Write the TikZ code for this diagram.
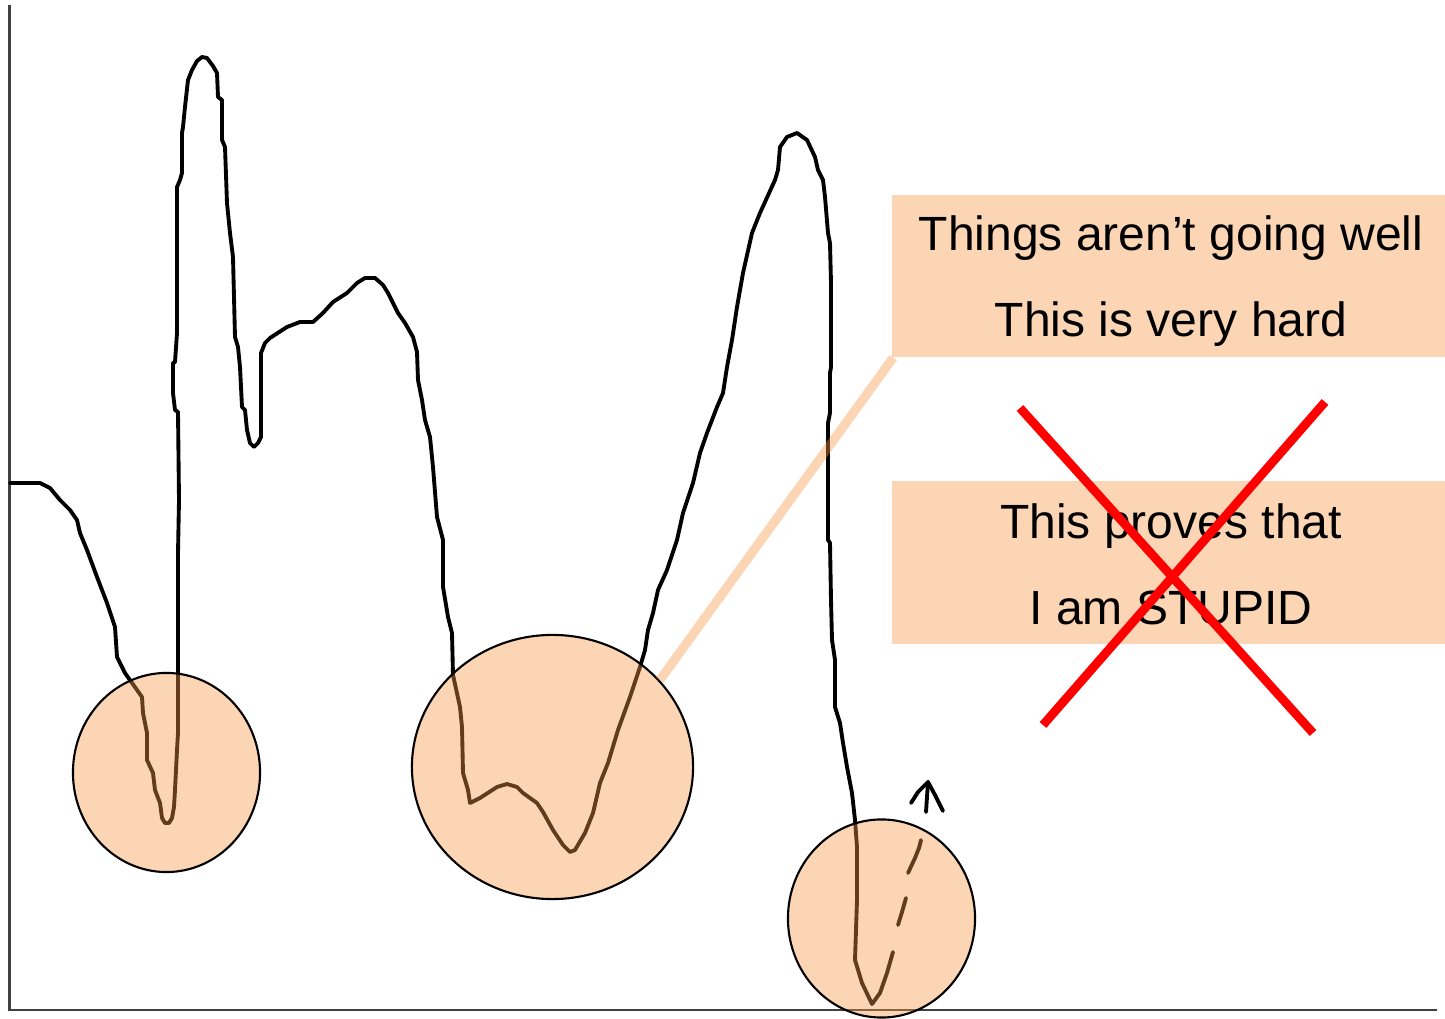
\documentclass[tikz,border=0pt]{standalone}
\usepackage{fontspec}
\setmainfont{Liberation Sans}
\usetikzlibrary{shapes.geometric}
\definecolor{peach}{HTML}{F79646}
\definecolor{axisgray}{HTML}{404040}
\tikzset{
  axisline/.style={draw=axisgray, line width=0.7pt},
  mood/.style={draw=black, line width=1.1pt, line join=round, line cap=round},
  spot/.style={ellipse, draw=black, line width=0.6pt, fill=peach, fill opacity=0.4, draw opacity=1, inner sep=0pt},
  callout/.style={rectangle, fill=peach, fill opacity=0.4, inner sep=0pt, minimum width=5.53cm},
  label/.style={anchor=base, inner sep=0pt, text=black, font=\fontsize{13.66pt}{16pt}\selectfont},
  link/.style={draw=peach, draw opacity=0.4, line width=2.6pt},
  cross/.style={draw=red, line width=2.5pt}
}
\begin{document}
\begin{tikzpicture}[x=0.01cm, y=-0.01cm]
\useasboundingbox (0,0) rectangle (1445,1019);

% axes
\coordinate (origin) at (9.5,1010);
\coordinate (ytop) at (9.5,5);
\coordinate (xend) at (1437,1010);
\draw[axisline] (ytop) -- (origin) -- (xend);

% the mood curve
\draw[mood] plot coordinates {
 (10,483) (40,483) (50,488) (60,500) (70,510) (77,520) (80,533) (87,550)
 (97,577) (107,603) (115,627) (117,657) (125,673) (137,690) (142,697)
 (143,713) (147,733) (147,760) (153,773) (155,790) (160,803) (162,818)
 (165,823) (169,823) (172,818) (174,807) (175,790) (177,750) (178,733)
 (178,673) (178,553) (179,500) (178,412) (175,410) (173,393) (173,363)
 (175,362) (177,333) (177,187) (180,180) (182,173) (182,133) (183,127)
 (185,107) (188,80) (192,70) (197,61) (202,57) (207,58) (213,66) (217,73)
 (218,97) (222,100) (222,140) (225,147) (227,203) (230,233) (233,257)
 (235,337) (238,347) (240,367) (242,407) (245,410) (247,430) (250,443)
 (254,447) (258,443) (261,437) (261,353) (265,343) (270,338) (287,327)
 (300,322) (313,322) (323,313) (333,302) (347,293) (357,283) (365,278)
 (375,278) (383,285) (388,293) (393,303) (398,313) (405,323) (413,337)
 (417,352) (418,380) (422,400) (425,420) (430,437) (433,467) (437,517)
 (443,540) (443,587) (448,617) (452,633) (453,675) (460,707) (462,727)
 (463,773) (468,790) (470,803) (480,798) (497,787) (507,784) (517,787)
 (523,793) (537,803) (543,812) (553,830) (563,845) (570,852) (575,850)
 (585,833) (593,813) (600,783) (608,763) (618,730) (630,697) (640,667)
 (645,650) (648,630) (653,613) (658,590) (667,570) (677,540) (683,513)
 (693,483) (700,453) (707,433) (717,407) (723,393) (727,367) (732,340)
 (737,307) (743,273) (752,233) (760,213) (775,180) (778,170) (780,147)
 (787,137) (797,133) (807,140) (815,157) (818,170) (823,180) (825,197)
 (828,233) (830,243) (831,283) (831,300) (831,367) (830,373) (830,413)
 (828,423) (828,540) (830,543) (831,600) (832,640) (835,660) (835,707)
 (840,723) (843,743) (847,767) (852,793) (855,820) (857,847) (857,900)
 (855,960) (862,983) (872,1004) (880,993) (887,973) (893,952)
};
% dashed continuation
\draw[mood] (898,925) -- (902,912) -- (906,898);
\draw[mood] (908,873) -- (915,858) -- (919,848) -- (921,840);
% little hand-drawn arrowhead
\coordinate (tip) at (928,782);
\draw[mood] (911,803) -- (918,792) -- (tip) -- (935,795) -- (943,811);
\draw[mood] (926,812) -- (tip);

% highlighted dips
\node[spot, minimum width=1.87cm, minimum height=1.99cm] (c1) at (166.5,772.5) {};
\node[spot, minimum width=2.81cm, minimum height=2.64cm] (c2) at (552.5,767) {};
\node[spot, minimum width=1.87cm, minimum height=1.98cm] (c3) at (881.5,918.5) {};

% callout boxes
\node[callout, minimum height=1.62cm] (box1) at (1168.5,276) {};
\node[callout, minimum height=1.63cm] (box2) at (1168.5,562.5) {};
\draw[link] (c2.39) -- ([shift={(2,0)}]box1.south west);

\node[label] (t1) at (1171,251) {Things aren’t going well};
\node[label] (t2) at (1171,337) {This is very hard};
\node[label] (t3) at (1171,539) {This proves that};
\node[label] (t4) at (1171,625) {I am STUPID};

% crossing out
\coordinate (xa1) at (1020,408);
\coordinate (xa2) at (1313,733);
\coordinate (xb1) at (1325,402);
\coordinate (xb2) at (1043,725);
\draw[cross] (xa1) -- (xa2);
\draw[cross] (xb1) -- (xb2);
\end{tikzpicture}
\end{document}
